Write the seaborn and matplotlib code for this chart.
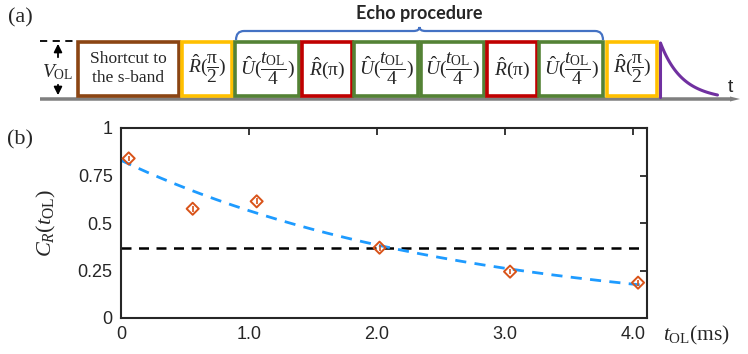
import numpy as np
import pandas as pd
import matplotlib.pyplot as plt
import matplotlib.patches as mpatches
from matplotlib.path import Path
import seaborn as sns

# ---------------------------------------------------------
# data
# ---------------------------------------------------------
t_ol = [0.06, 0.56, 1.06, 2.02, 3.04, 4.04]          # ms
c_r = [0.84, 0.575, 0.614, 0.37, 0.244, 0.186]
c_err = [0.015, 0.015, 0.015, 0.015, 0.015, 0.015]

fit_amp = 0.83      # exponential fit C = A exp(-t/tau)
fit_tau = 2.6       # ms
threshold = 0.37    # 1/e level

x_ticks = [0, 1.0, 2.0, 3.0, 4.0]
x_ticklabels = ["0", "1.0", "2.0", "3.0", "4.0"]
y_ticks = [0, 0.25, 0.5, 0.75, 1]
y_ticklabels = ["0", "0.25", "0.5", "0.75", "1"]

# pulse sequence of panel (a)
box_labels = [
    "Shortcut to\nthe s-band",
    r"$\hat{R}(\dfrac{\mathrm{\pi}}{2})$",
    r"$\hat{U}(\dfrac{t_{\mathrm{OL}}}{4})$",
    r"$\hat{R}(\mathrm{\pi})$",
    r"$\hat{U}(\dfrac{t_{\mathrm{OL}}}{4})$",
    r"$\hat{U}(\dfrac{t_{\mathrm{OL}}}{4})$",
    r"$\hat{R}(\mathrm{\pi})$",
    r"$\hat{U}(\dfrac{t_{\mathrm{OL}}}{4})$",
    r"$\hat{R}(\dfrac{\mathrm{\pi}}{2})$",
]
box_kind = ["shortcut", "half", "evol", "pi", "evol", "evol", "pi", "evol", "half"]

# ---------------------------------------------------------
# style
# ---------------------------------------------------------
sns.set_theme(style="white")
plt.rcParams["font.family"] = ["Liberation Sans", "DejaVu Sans"]
plt.rcParams["mathtext.fontset"] = "custom"
plt.rcParams["mathtext.rm"] = "Liberation Serif"
plt.rcParams["mathtext.it"] = "Liberation Serif:italic"
plt.rcParams["mathtext.bf"] = "Liberation Serif:bold"

kind_color = {"shortcut": "#8B4513", "half": "#FFC000", "evol": "#548235", "pi": "#C00000"}
dot_color = "#D95319"
fit_color = "#1E9BFF"

fig = plt.figure(figsize=(7.48, 3.54), dpi=100)

# ---------------------------------------------------------
# panel (a): sequence diagram, pixel coordinates
# ---------------------------------------------------------
axa = fig.add_axes([0, 1 - 110 / 354, 1, 110 / 354])
axa.set_xlim(0, 748)
axa.set_ylim(110, 0)
axa.axis("off")

# baseline with arrow
axa.add_patch(mpatches.FancyArrow(40, 99, 690, 0, width=3.5, head_width=5, head_length=10,
                                  length_includes_head=False, color="#7F7F7F", lw=0))
axa.text(730, 87, "t", fontsize=14, ha="center", va="center", family="Liberation Sans")

box_x = [78, 182, 235.5, 302, 354.5, 421, 487, 539.5, 607]
box_w = [101, 50.5, 64, 50.5, 64, 63.5, 50, 64, 50.5]
for lbl, kind, x0, w in zip(box_labels, box_kind, box_x, box_w):
    axa.add_patch(mpatches.Rectangle((x0, 41.5), w, 54, fill=False,
                                     ec=kind_color[kind], lw=2.6))
    if kind == "shortcut":
        axa.text(x0 + w / 2, 68.5, lbl, ha="center", va="center", fontsize=12.5,
                 family="Liberation Serif", linespacing=1.2)
    else:
        axa.text(x0 + w / 2, 68.5, lbl, ha="center", va="center", fontsize=14)

# readout signal (decaying curve)
tt = np.linspace(0, 1, 60)
axa.plot([660.5, 660.5], [97, 43], color="#7030A0", lw=2.2)
axa.plot(660.5 + 57 * tt, 95 - 52 * np.exp(-tt / 0.36) + 52 * np.exp(-1 / 0.36) * tt,
         color="#7030A0", lw=2.2)

# V_OL marker
axa.plot([40, 73], [41, 41], color="black", lw=1.3, ls=(0, (4, 3)))
axa.annotate("", xy=(58, 41), xytext=(58, 60),
             arrowprops=dict(arrowstyle="-|>,head_width=0.2,head_length=0.4", color="black", lw=1.3))
axa.annotate("", xy=(58, 98), xytext=(58, 82),
             arrowprops=dict(arrowstyle="-|>,head_width=0.2,head_length=0.4", color="black", lw=1.3))
axa.text(58, 72, r"$V_{\mathrm{OL}}$", ha="center", va="center", fontsize=14)

# curly brace over the echo procedure
bl, br, btop, bbot, r = 236, 603, 31, 40, 8
mid = (bl + br) / 2
verts = [(bl, bbot), (bl, btop), (bl + r, btop), (mid - 6, btop), (mid, btop), (mid, btop - 4),
         (mid, btop), (mid + 6, btop), (br - r, btop), (br, btop), (br, bbot)]
codes = [Path.MOVETO, Path.CURVE3, Path.CURVE3, Path.LINETO, Path.CURVE3, Path.CURVE3,
         Path.CURVE3, Path.CURVE3, Path.LINETO, Path.CURVE3, Path.CURVE3]
axa.add_patch(mpatches.PathPatch(Path(verts, codes), fill=False, ec="#4472C4", lw=1.6))
axa.text(mid, 14, "Echo procedure", ha="center", va="center", fontsize=13,
         family=["Lato", "DejaVu Sans"], fontweight="bold")

fig.text(20 / 748, 1 - 18 / 354, "(a)", fontsize=16, family="Liberation Serif",
         ha="center", va="center")
fig.text(20 / 748, 1 - 140 / 354, "(b)", fontsize=16, family="Liberation Serif",
         ha="center", va="center")

# ---------------------------------------------------------
# panel (b): contrast vs overlap time
# ---------------------------------------------------------
ax = fig.add_axes([121 / 748, 36 / 354, 526 / 748, 190 / 354])
xmax = 4.11

df = pd.DataFrame({"t": t_ol, "c": c_r, "err": c_err})
t_fit = np.linspace(0, xmax, 200)
fit_df = pd.DataFrame({"t": t_fit, "c": fit_amp * np.exp(-t_fit / fit_tau)})

ax.plot([0, xmax], [threshold, threshold], color="black", lw=1.8, ls=(0, (4, 3)), zorder=1)
sns.lineplot(data=fit_df, x="t", y="c", ax=ax, color=fit_color, lw=2, zorder=2)
ax.lines[-1].set_dashes((4, 3))
ax.errorbar(df["t"], df["c"], yerr=df["err"], fmt="none", ecolor=dot_color, elinewidth=1.2, zorder=3)
sns.scatterplot(data=df, x="t", y="c", ax=ax, marker="D", s=38, facecolor="none",
                edgecolor=dot_color, linewidth=1.4, zorder=4)

ax.set_xlim(0, xmax)
ax.set_ylim(0, 1)
ax.set_xticks(x_ticks)
ax.set_xticklabels(x_ticklabels)
ax.set_yticks(y_ticks)
ax.set_yticklabels(y_ticklabels)
ax.tick_params(direction="in", length=5, width=1.3, top=True, right=True,
               labelsize=13, colors="#262626", pad=6)
for sp in ax.spines.values():
    sp.set_linewidth(1.5)
    sp.set_color("#262626")
ax.set_xlabel("")
ax.set_ylabel(r"$C_R(t_{\mathrm{OL}})$", fontsize=16, labelpad=14)
ax.text(1.095, -0.09, r"$t_{\mathrm{OL}}$(ms)", transform=ax.transAxes, fontsize=15.5,
        ha="center", va="center", family="Liberation Serif")

fig.savefig("out.png", dpi=100)
